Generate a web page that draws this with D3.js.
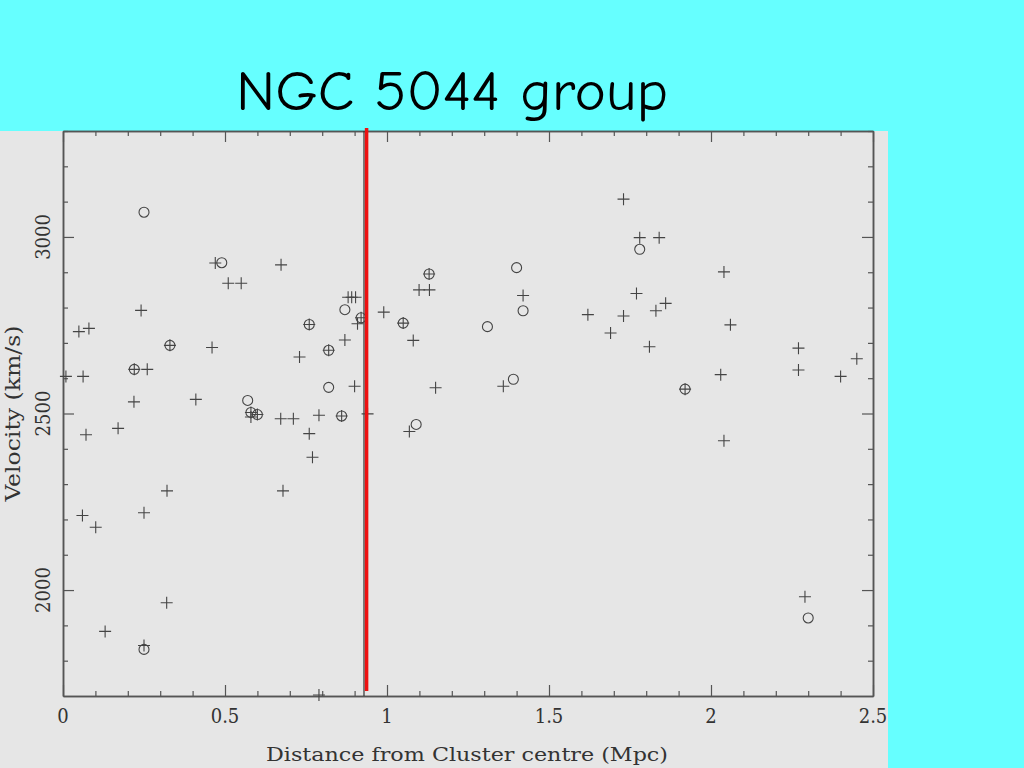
<!DOCTYPE html>
<html>
<head>
<meta charset="utf-8">
<script src="https://cdn.jsdelivr.net/npm/d3@7"></script>
<style>
  html, body { margin: 0; padding: 0; background: #66ffff; }
  svg { display: block; }
</style>
</head>
<body>
<svg id="chart" width="1024" height="768"></svg>
<script>
// ---- data (distance in Mpc, velocity in km/s) ----
const circleX = [0.25, 0.49, 0.25, 0.57, 0.58, 0.60, 0.33, 0.22, 0.76, 0.82, 0.82, 0.87, 0.92, 0.86, 1.05, 1.09, 1.13, 1.40, 1.42, 1.31, 1.39, 1.78, 1.92, 2.30];
const circleV = [3070, 2927, 1832, 2537, 2503, 2497, 2693, 2625, 2752, 2679, 2574, 2794, 2771, 2493, 2756, 2469, 2895, 2913, 2791, 2746, 2597, 2965, 2569, 1921];

const plusX = [0.47, 0.51, 0.55, 0.673, 0.241, 0.049, 0.080, 0.46, 0.009, 0.062, 0.26, 0.219, 0.41, 0.071, 0.170, 0.672, 0.711, 0.321, 0.679, 0.06, 0.101, 0.25, 0.32, 0.13, 0.25,
  0.88, 0.891, 0.903, 0.99, 1.099, 1.131, 1.42, 0.87, 0.73, 0.90, 1.081, 1.15, 1.359, 0.79, 0.94, 0.76, 0.77, 0.79, 1.069, 0.909,
  1.73, 1.78, 1.84, 2.04, 1.77, 1.86, 1.83, 1.62, 1.73, 1.69, 2.06, 1.81, 2.27, 2.45, 2.03, 2.27, 2.40, 2.04, 2.29, 0.58,
  0.33, 0.22, 0.76, 0.82, 0.92, 0.86, 1.05, 1.13, 1.92, 0.60, 0.58];
const plusV = [2926, 2869, 2869, 2921, 2792, 2732, 2741, 2687, 2605, 2605, 2625, 2533, 2540, 2440, 2458, 2485, 2485, 2281, 2281, 2211, 2178, 2219, 1964, 1883, 1843,
  2829, 2829, 2829, 2787, 2850, 2850, 2834, 2708, 2660, 2577, 2707, 2573, 2577, 2495, 2499, 2443, 2376, 1703, 2449, 2754,
  3107, 2998, 2998, 2901, 2840, 2812, 2791, 2780, 2776, 2728, 2751, 2689, 2685, 2655, 2610, 2623, 2605, 2423, 1981, 2490,
  2693, 2625, 2752, 2679, 2771, 2493, 2756, 2895, 2569, 2497, 2503];

const xDomain = [0, 2.5];
const yDomain = [1700, 3300];
const xMajorTicks = [0, 0.5, 1, 1.5, 2, 2.5];
const xTickLabels = ["0", "0.5", "1", "1.5", "2", "2.5"];
const yMajorTicks = [2000, 2500, 3000];
const yTickLabels = ["2000", "2500", "3000"];
const cutLine = 0.929;        // boundary marked on the plot
const redLine = 0.937;        // red overlay line

const titleText = "NGC 5044 group";
const xTitle = "Distance from Cluster centre (Mpc)";
const yTitle = "Velocity (km/s)";

// ---- layout ----
const svg = d3.select("#chart");
const L = 63, R = 873, T = 131, B = 696;
const x = d3.scaleLinear().domain(xDomain).range([L, R]);
const y = d3.scaleLinear().domain(yDomain).range([B, T]);
const axisColor = "#555";
const markColor = "#444";
const labelFont = "'DejaVu Serif Condensed', 'DejaVu Serif', serif";

// background
svg.append("rect").attr("x", 0).attr("y", 0).attr("width", 1024).attr("height", 768).attr("fill", "#66ffff");
svg.append("rect").attr("x", 0).attr("y", 131).attr("width", 888).attr("height", 637).attr("fill", "#e6e6e6");

// title
svg.append("text").attr("x", 452).attr("y", 110).attr("text-anchor", "middle")
  .attr("font-family", "'Comic Sans MS', 'Comic Neue', 'DejaVu Sans', sans-serif")
  .attr("font-size", 56).attr("fill", "#000")
  .attr("textLength", 432).attr("lengthAdjust", "spacingAndGlyphs")
  .text(titleText);

// axes with d3 axis generators (ticks inward)
const xMinor = d3.range(0, 2.5001, 0.1).map(v => +v.toFixed(2)).filter(v => !xMajorTicks.some(m => Math.abs(m - v) < 1e-6));
const yMinor = d3.range(1800, 3301, 100).filter(v => !yMajorTicks.includes(v));

function styleAxis(g) {
  g.selectAll("path.domain").attr("stroke", axisColor).attr("stroke-width", 1.5);
  g.selectAll(".tick line").attr("stroke", axisColor).attr("stroke-width", 1.2);
  g.selectAll(".tick text").remove();
}

// bottom
svg.append("g").attr("transform", `translate(0,${B})`)
  .call(d3.axisBottom(x).tickValues(xMajorTicks).tickSize(-11).tickSizeOuter(0)).call(styleAxis);
svg.append("g").attr("transform", `translate(0,${B})`)
  .call(d3.axisBottom(x).tickValues(xMinor).tickSize(-5).tickSizeOuter(0)).call(styleAxis);
// top
svg.append("g").attr("transform", `translate(0,${T})`)
  .call(d3.axisTop(x).tickValues(xMajorTicks).tickSize(-11).tickSizeOuter(0)).call(styleAxis);
svg.append("g").attr("transform", `translate(0,${T})`)
  .call(d3.axisTop(x).tickValues(xMinor).tickSize(-5).tickSizeOuter(0)).call(styleAxis);
// left
svg.append("g").attr("transform", `translate(${L},0)`)
  .call(d3.axisLeft(y).tickValues(yMajorTicks).tickSize(-11).tickSizeOuter(0)).call(styleAxis);
svg.append("g").attr("transform", `translate(${L},0)`)
  .call(d3.axisLeft(y).tickValues(yMinor).tickSize(-5).tickSizeOuter(0)).call(styleAxis);
// right
svg.append("g").attr("transform", `translate(${R},0)`)
  .call(d3.axisRight(y).tickValues(yMajorTicks).tickSize(-11).tickSizeOuter(0)).call(styleAxis);
svg.append("g").attr("transform", `translate(${R},0)`)
  .call(d3.axisRight(y).tickValues(yMinor).tickSize(-5).tickSizeOuter(0)).call(styleAxis);

// tick labels
svg.append("g").selectAll("text").data(xMajorTicks).join("text")
  .attr("x", d => x(d)).attr("y", 723).attr("text-anchor", "middle")
  .attr("font-family", labelFont).attr("font-stretch", "condensed").attr("font-size", 20).attr("fill", "#333")
  .text((d, i) => xTickLabels[i]);
svg.append("g").selectAll("text").data(yMajorTicks).join("text")
  .attr("transform", d => `translate(50,${y(d)}) rotate(-90)`).attr("text-anchor", "middle")
  .attr("font-family", labelFont).attr("font-stretch", "condensed").attr("font-size", 20).attr("fill", "#333")
  .text((d, i) => yTickLabels[i]);

// axis titles
svg.append("text").attr("x", 467).attr("y", 761).attr("text-anchor", "middle")
  .attr("font-family", labelFont).attr("font-stretch", "condensed").attr("font-size", 19).attr("fill", "#333")
  .attr("textLength", 402).attr("lengthAdjust", "spacingAndGlyphs")
  .text(xTitle);
svg.append("text").attr("transform", `translate(20,${y(2500)}) rotate(-90)`).attr("text-anchor", "middle")
  .attr("font-family", labelFont).attr("font-stretch", "condensed").attr("font-size", 20).attr("fill", "#333")
  .attr("textLength", 176).attr("lengthAdjust", "spacingAndGlyphs")
  .text(yTitle);

// vertical boundary line (dark) from the original plot
svg.append("line").attr("x1", x(cutLine)).attr("x2", x(cutLine)).attr("y1", T).attr("y2", B)
  .attr("stroke", "#333").attr("stroke-width", 1.2);

// data marks
const plusData = plusX.map((d, i) => ({ x: d, v: plusV[i] }));
const circleData = circleX.map((d, i) => ({ x: d, v: circleV[i] }));
const s = 6;
svg.append("g").selectAll("path").data(plusData).join("path")
  .attr("d", d => `M${x(d.x) - s},${y(d.v)}H${x(d.x) + s}M${x(d.x)},${y(d.v) - s}V${y(d.v) + s}`)
  .attr("stroke", markColor).attr("stroke-width", 1.1).attr("fill", "none");
svg.append("g").selectAll("circle").data(circleData).join("circle")
  .attr("cx", d => x(d.x)).attr("cy", d => y(d.v)).attr("r", 5)
  .attr("stroke", markColor).attr("stroke-width", 1.1).attr("fill", "none");

// red overlay line
svg.append("line").attr("x1", x(redLine)).attr("x2", x(redLine)).attr("y1", 128).attr("y2", 691)
  .attr("stroke", "#ee1111").attr("stroke-width", 3.5);
</script>
</body>
</html>
